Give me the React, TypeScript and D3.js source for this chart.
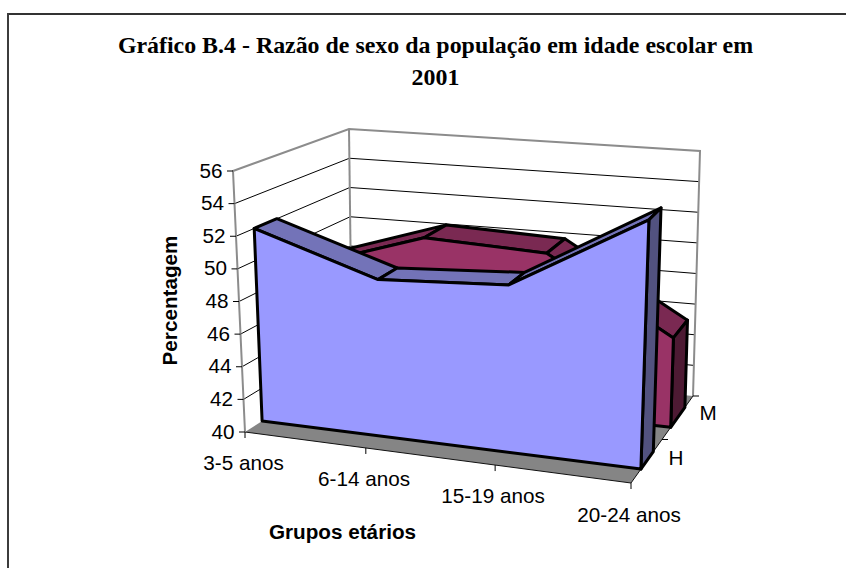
import React from "react";
import * as d3 from "d3";

const categories = ["3-5 anos", "6-14 anos", "15-19 anos", "20-24 anos"];
const seriesH = [52.0, 49.6, 50.1, 54.8];
const seriesM = [48.1, 50.5, 50.2, 45.6];
const valueTicks = [40, 42, 44, 46, 48, 50, 52, 54, 56];
const depthLabels = ["H", "M"];
const titleLines = ["Gráfico B.4 - Razão de sexo da população em idade escolar em", "2001"];

type P = [number, number];
const catU = d3.scaleLinear().domain([0, 1, 2, 3]).range([0, 0.313, 0.648, 1]);
const wS = d3.scaleLinear().domain([40, 56]).range([0, 1]);
// 3D box corners in screen space: [u][v][w]
const C: Record<string, P> = {
  "000": [245, 432], "001": [233, 171],
  "010": [352, 363], "011": [349, 129],
  "100": [631, 483], "101": [640, 209],
  "110": [693, 396], "111": [700, 151],
};
function proj(u: number, v: number, w: number): P {
  const f = (i: 0 | 1) =>
    d3.interpolateNumber(
      d3.interpolateNumber(
        d3.interpolateNumber(C["000"][i], C["100"][i])(u),
        d3.interpolateNumber(C["010"][i], C["110"][i])(u)
      )(v),
      d3.interpolateNumber(
        d3.interpolateNumber(C["001"][i], C["101"][i])(u),
        d3.interpolateNumber(C["011"][i], C["111"][i])(u)
      )(v)
    )(w);
  return [f(0), f(1)];
}
const pt = (c: number, v: number, val: number) => proj(catU(c), v, wS(val));
const poly = (ps: P[]) => ps.map((p) => p.map((n) => n.toFixed(1)).join(",")).join(" ");
const line = (a: P, b: P, props: any, key?: any) => (
  <line key={key} x1={a[0]} y1={a[1]} x2={b[0]} y2={b[1]} {...props} />
);

function Ribbon({ vals, v0, v1, front, top, side }: { vals: number[]; v0: number; v1: number; front: string; top: string; side: string }) {
  const sw = 3;
  const n = vals.length - 1;
  const frontPts: P[] = [pt(0, v0, 40), ...vals.map((d, i) => pt(i, v0, d)), pt(n, v0, 40)];
  const sidePts: P[] = [pt(n, v0, 40), pt(n, v0, vals[n]), pt(n, v1, vals[n]), pt(n, v1, 40)];
  return (
    <g stroke="#000" strokeWidth={sw} strokeLinejoin="round">
      {vals.slice(0, n).map((d, i) => (
        <polygon key={i} fill={top} points={poly([pt(i, v0, d), pt(i + 1, v0, vals[i + 1]), pt(i + 1, v1, vals[i + 1]), pt(i, v1, d)])} />
      ))}
      <polygon fill={side} points={poly(sidePts)} />
      <polygon fill={front} points={poly(frontPts)} />
    </g>
  );
}

export default function App() {
  const wallStroke = { stroke: "#8c8c8c", strokeWidth: 2 };
  const grid = { stroke: "#000", strokeWidth: 1 };
  const sans = "'Liberation Sans', Arial, sans-serif";
  const fs = 20.7;
  return (
    <svg width={846} height={568} style={{ position: "absolute", left: 0, top: 0, background: "#fff" }}>
      <line x1={7} y1={14} x2={846} y2={14} stroke="#333" strokeWidth={2} />
      <line x1={8} y1={13} x2={8} y2={568} stroke="#3c3c3c" strokeWidth={2} />
      {titleLines.map((t, i) => (
        <text key={t} x={435.5} y={53 + i * 32} textAnchor="middle" fontFamily="'Liberation Serif', 'Times New Roman', serif" fontWeight="bold" fontSize={23.9}>{t}</text>
      ))}
      {/* floor */}
      <polygon points={poly([C["000"], C["100"], C["110"], C["010"]])} fill="#858585" />
      {line(C["000"], C["100"], { stroke: "#111", strokeWidth: 1 })}
      {line(C["100"], C["110"], { stroke: "#111", strokeWidth: 1 })}
      {/* walls */}
      {valueTicks.slice(0, -1).map((t) => (
        <g key={t}>
          {t > 40 && line(proj(0, 0, wS(t)), proj(0, 1, wS(t)), grid)}
          {t > 40 && line(proj(0, 1, wS(t)), proj(1, 1, wS(t)), grid)}
        </g>
      ))}
      <polyline points={poly([C["000"], C["001"], C["011"], C["111"], C["110"]])} fill="none" {...wallStroke} />
      {line(C["011"], C["010"], wallStroke)}
      {/* series */}
      <Ribbon vals={seriesM} v0={0.64} v1={0.87} front="#993366" top="#7a2952" side="#4d1a33" />
      <Ribbon vals={seriesH} v0={0.16} v1={0.36} front="#9999ff" top="#7373b8" side="#52527f" />
      {/* value axis */}
      {valueTicks.map((t) => {
        const p = proj(0, 0, wS(t));
        return (
          <g key={t}>
            {line([p[0] - 6, p[1]], p, { stroke: "#000", strokeWidth: 1 })}
            <text x={p[0] - 10.5} y={p[1] + 6.5} textAnchor="end" fontFamily={sans} fontSize={fs}>{t}</text>
          </g>
        );
      })}
      {/* category ticks and labels */}
      {categories.map((c, i) => {
        const p = proj(catU(i), 0, 0);
        return (
          <g key={c}>
            {line(p, [p[0], p[1] + 6], { stroke: "#000", strokeWidth: 1 })}
            <text x={[243.5, 364, 493, 629][i]} y={[470, 486, 503, 522][i]} textAnchor="middle" fontFamily={sans} fontSize={fs}>{c}</text>
          </g>
        );
      })}
      {/* depth ticks and labels */}
      {[0.5, 1].map((v, i) => {
        const p = proj(1, v, 0);
        return <g key={v}>{line(p, [p[0] + 6, p[1]], { stroke: "#000", strokeWidth: 1 })}
          <text x={[676, 708][i]} y={[465, 420][i]} textAnchor="middle" fontFamily={sans} fontSize={fs}>{depthLabels[i]}</text></g>;
      })}
      <text x={342.5} y={539} textAnchor="middle" fontFamily={sans} fontWeight="bold" fontSize={fs}>Grupos etários</text>
      <text transform="translate(177,300.5) rotate(-90)" textAnchor="middle" fontFamily={sans} fontWeight="bold" fontSize={fs}>Percentagem</text>
    </svg>
  );
}
